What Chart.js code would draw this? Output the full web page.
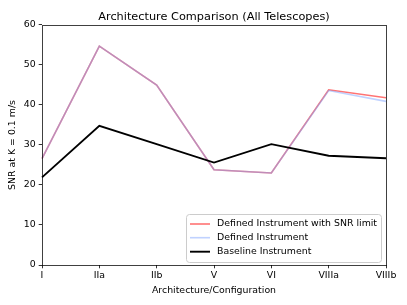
<!DOCTYPE html>
<html><head><meta charset="utf-8">
<script src="https://cdn.jsdelivr.net/npm/chart.js@4/dist/chart.umd.min.js"></script>
<style>html,body{margin:0;padding:0;background:#fff}#w{width:407px;height:305px}</style>
</head><body><div id="w"><canvas id="c" width="407" height="305"></canvas></div>
<script>
const categories = ["I","IIa","IIb","V","VI","VIIIa","VIIIb"];
const snrLimited = [26.6, 54.7, 45.0, 23.8, 23.0, 43.8, 41.8];
const definedInst = [26.6, 54.7, 45.0, 23.8, 23.0, 43.6, 40.9];
const baseline = [21.9, 34.8, 30.2, 25.6, 30.2, 27.3, 26.7];
const yTicks = [0,10,20,30,40,50,60];
const seriesLabels = ["Defined Instrument with SNR limit","Defined Instrument","Baseline Instrument"];

const FONT = "'DejaVu Sans', sans-serif";
const FS = 9.4;

const framePlugin = {
  id: 'frame',
  afterLayout(chart) {
    const a = chart.chartArea;
    if (chart.titleBlock) { chart.titleBlock.left = a.left; chart.titleBlock.right = a.right; chart.titleBlock.width = a.right - a.left; }
  },
  afterDraw(chart) {
    const {ctx, chartArea: a} = chart;
    ctx.save();
    ctx.strokeStyle = 'rgba(0,0,0,0.75)';
    ctx.lineWidth = 1;
    ctx.strokeRect(Math.round(a.left)+0.5, Math.round(a.top)+0.5, Math.round(a.right-a.left), Math.round(a.bottom-a.top));
    // legend
    const x0 = 186.5, y0 = 214.5, w = 195, h = 48, r = 3;
    ctx.fillStyle = 'rgba(255,255,255,0.8)';
    ctx.strokeStyle = '#cccccc';
    ctx.beginPath();
    ctx.moveTo(x0+r,y0); ctx.lineTo(x0+w-r,y0); ctx.quadraticCurveTo(x0+w,y0,x0+w,y0+r);
    ctx.lineTo(x0+w,y0+h-r); ctx.quadraticCurveTo(x0+w,y0+h,x0+w-r,y0+h);
    ctx.lineTo(x0+r,y0+h); ctx.quadraticCurveTo(x0,y0+h,x0,y0+h-r);
    ctx.lineTo(x0,y0+r); ctx.quadraticCurveTo(x0,y0,x0+r,y0); ctx.closePath();
    ctx.fill(); ctx.stroke();
    const ys = [224, 237.7, 251.7];
    chart.data.datasets.forEach((ds, i) => {
      ctx.strokeStyle = ds.borderColor;
      ctx.lineWidth = ds.borderWidth;
      ctx.beginPath(); ctx.moveTo(190, ys[i]); ctx.lineTo(210, ys[i]); ctx.stroke();
      ctx.fillStyle = '#000';
      ctx.font = FS + "px " + FONT;
      ctx.textBaseline = 'middle';
      ctx.textAlign = 'left';
      ctx.fillText(ds.label, 217, ys[i]);
    });
    ctx.restore();
  }
};

new Chart(document.getElementById('c'), {
  type: 'line',
  data: {
    labels: categories,
    datasets: [
      {label: seriesLabels[0], data: snrLimited, order: 2, borderColor: 'rgba(255,0,0,0.55)', borderWidth: 1.6, pointRadius: 0, tension: 0, fill: false},
      {label: seriesLabels[1], data: definedInst, order: 1, borderColor: 'rgba(130,165,255,0.5)', borderWidth: 1.6, pointRadius: 0, tension: 0, fill: false},
      {label: seriesLabels[2], data: baseline, order: 0, borderColor: '#000000', borderWidth: 1.9, pointRadius: 0, tension: 0, fill: false}
    ]
  },
  options: {
    responsive: false,
    animation: false,
    layout: {padding: {left: 0, right: 21, top: 0, bottom: 0}},
    plugins: {
      legend: {display: false},
      tooltip: {enabled: false},
      title: {display: true, text: 'Architecture Comparison (All Telescopes)', color: '#000',
        font: {family: FONT, size: 11.3, weight: 'normal'}, padding: {top: 10.2, bottom: 1.2}}
    },
    scales: {
      x: {
        offset: false,
        afterFit(s) { s.height = 40; },
        grid: {display: true, drawOnChartArea: false, drawTicks: true, tickLength: 3.3, color: '#333'},
        border: {display: false},
        ticks: {color: '#000', font: {family: FONT, size: FS}, padding: 1.5, maxRotation: 0, autoSkip: false},
        title: {display: true, text: 'Architecture/Configuration', color: '#000', font: {family: FONT, size: FS}, padding: {top: 0, bottom: 9}}
      },
      y: {
        min: 0, max: 60,
        afterFit(s) { s.width = 42; },
        afterBuildTicks(s) { s.ticks = yTicks.map(v => ({value: v})); },
        grid: {display: true, drawOnChartArea: false, drawTicks: true, tickLength: 3.3, color: '#333'},
        border: {display: false},
        ticks: {color: '#000', font: {family: FONT, size: FS}, padding: 3},
        title: {display: true, text: 'SNR at K = 0.1 m/s', color: '#000', font: {family: FONT, size: FS}, padding: {top: 7.4, bottom: 0}}
      }
    }
  },
  plugins: [framePlugin]
});
</script>
</body></html>
